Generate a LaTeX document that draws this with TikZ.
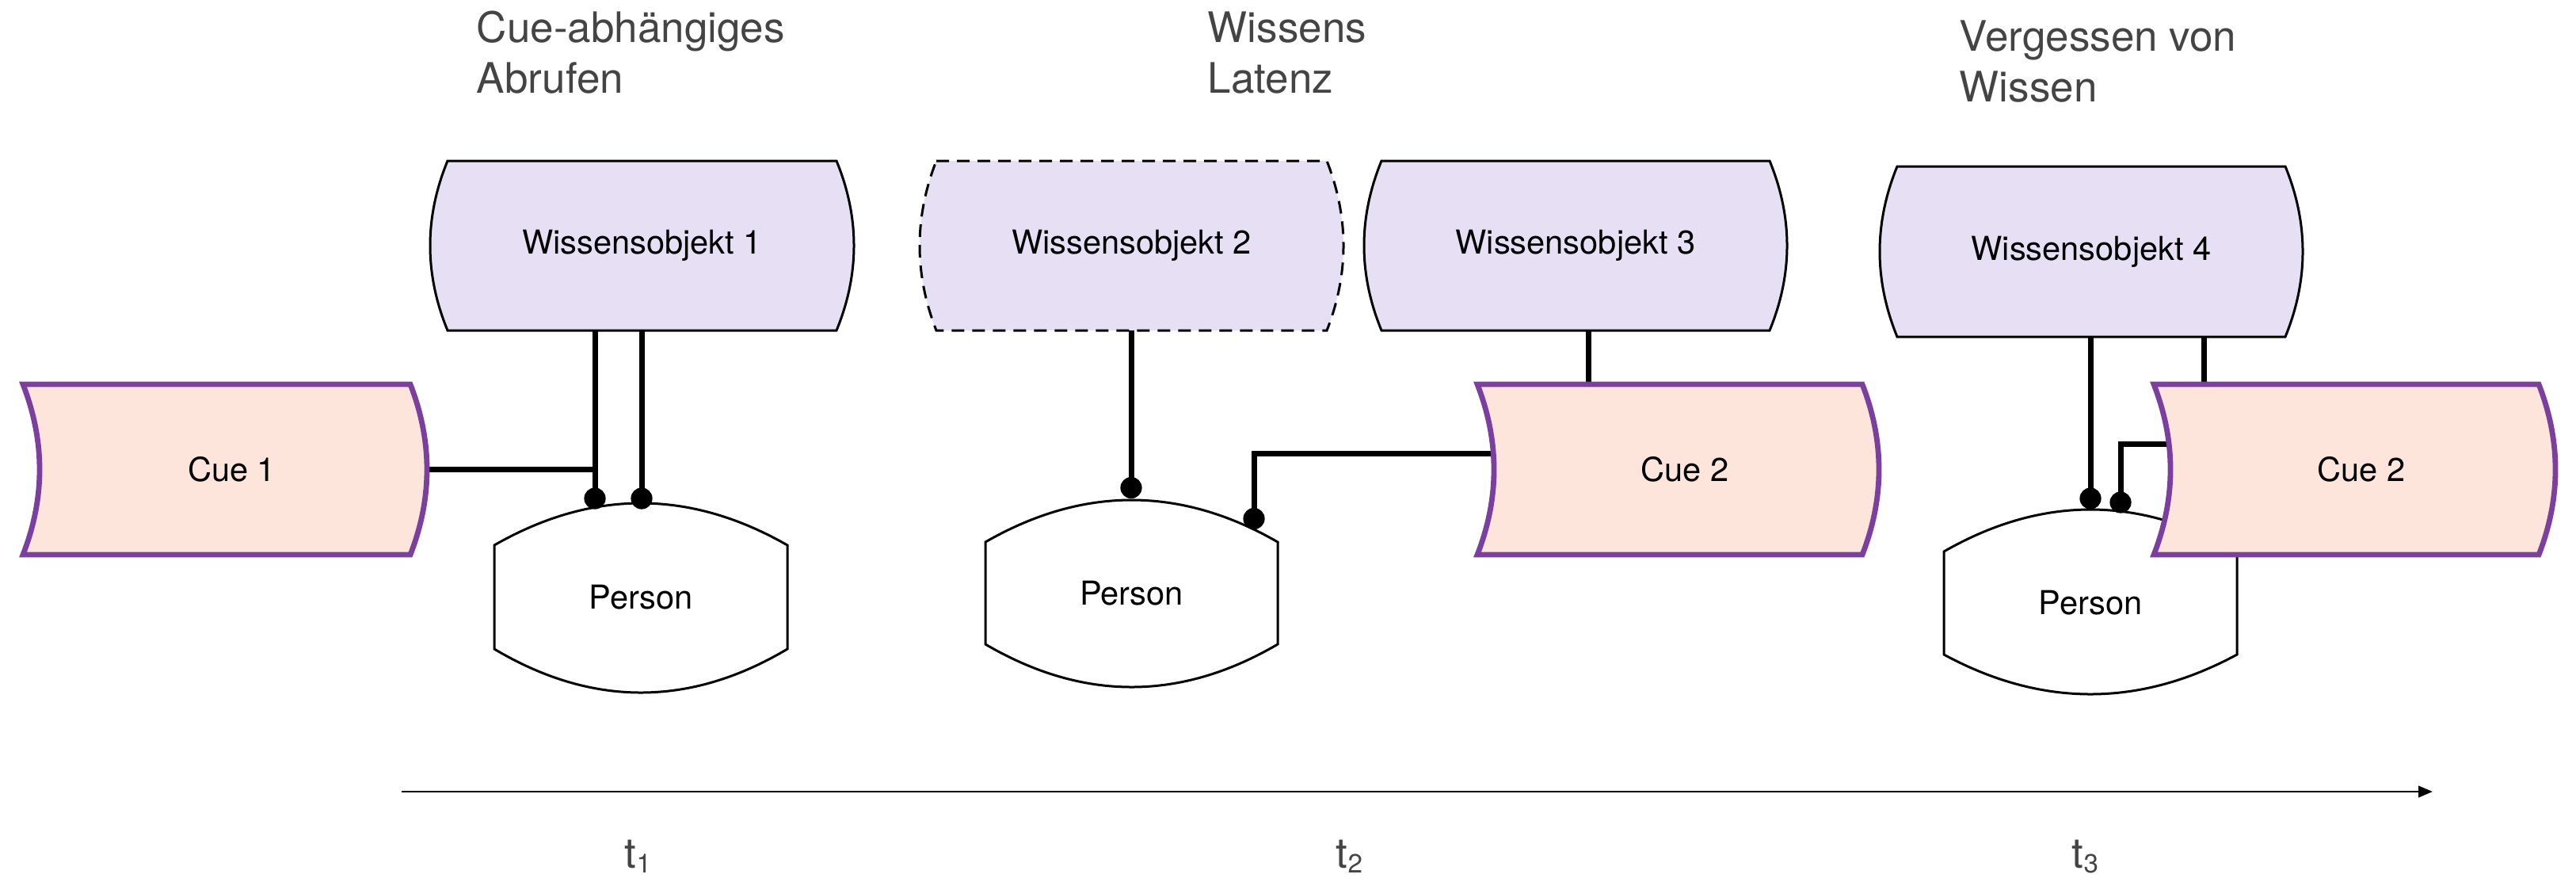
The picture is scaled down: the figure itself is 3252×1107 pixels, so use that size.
\documentclass[tikz,border=0pt]{standalone}
\usepackage{fontspec}
\setmainfont{TeX Gyre Heros}
\usetikzlibrary{calc,arrows.meta}
\definecolor{wofill}{HTML}{E7E0F4}
\definecolor{cuefill}{HTML}{FDE5DB}
\definecolor{cueline}{HTML}{7B3F9E}
\definecolor{titlegray}{HTML}{444444}
% box with both vertical sides bulging outward
\newcommand\woshape[3]{%
  \draw[#3] (#1.north west) -- (#1.north east)
    .. controls ($(#1.north east)!1/3!(#1.south east)+(4/3*#2,0)$) and ($(#1.north east)!2/3!(#1.south east)+(4/3*#2,0)$) .. (#1.south east)
    -- (#1.south west)
    .. controls ($(#1.south west)!1/3!(#1.north west)-(4/3*#2,0)$) and ($(#1.south west)!2/3!(#1.north west)-(4/3*#2,0)$) .. (#1.north west) -- cycle;}
% box with both vertical sides bent to the right
\newcommand\cueshape[2]{%
  \draw[cuebox] (#1.north west) -- (#1.north east)
    .. controls ($(#1.north east)!1/3!(#1.south east)+(4/3*#2,0)$) and ($(#1.north east)!2/3!(#1.south east)+(4/3*#2,0)$) .. (#1.south east)
    -- (#1.south west)
    .. controls ($(#1.south west)!1/3!(#1.north west)+(4/3*#2,0)$) and ($(#1.south west)!2/3!(#1.north west)+(4/3*#2,0)$) .. (#1.north west) -- cycle;}
% box with flat sides, top and bottom bulging outward
\newcommand\personshape[3]{%
  \draw[personbox] (#1.north west)
    .. controls ($(#1.north west)!1/3!(#1.north east)-(0,4/3*#2)$) and ($(#1.north west)!2/3!(#1.north east)-(0,4/3*#2)$) .. (#1.north east)
    -- (#1.south east)
    .. controls ($(#1.south east)!1/3!(#1.south west)+(0,4/3*#3)$) and ($(#1.south east)!2/3!(#1.south west)+(0,4/3*#3)$) .. (#1.south west)
    -- cycle;}
\newcommand\tsub[1]{t\raisebox{-1.5pt}{\fontsize{8.3pt}{9pt}\selectfont #1}}
\begin{document}
\begin{tikzpicture}[x=0.25pt,y=-0.25pt,
  geo/.style={draw=none,inner sep=0pt,outer sep=0pt},
  wobox/.style={draw=black,fill=wofill,line width=0.75pt},
  wodash/.style={wobox,dash pattern=on 4pt off 2.5pt},
  cuebox/.style={draw=cueline,fill=cuefill,line width=1.7pt,line join=miter},
  personbox/.style={draw=black,fill=white,line width=0.75pt},
  conn/.style={draw=black,line width=1.75pt},
  dot/.style={circle,fill=black,inner sep=0pt,minimum size=6.8pt},
  lbl/.style={font=\fontsize{10.4pt}{12pt}\selectfont,text=black},
  title/.style={anchor=base west,inner sep=0pt,align=left,text=titlegray,font=\fontsize{13.25pt}{16pt}\selectfont},
  tlabel/.style={anchor=base west,inner sep=0pt,text=titlegray,font=\fontsize{13.25pt}{16pt}\selectfont},
  axis/.style={draw=black,line width=0.7pt,-{Triangle[length=4.5pt,width=3.6pt]}}
]
\useasboundingbox (0,0) rectangle (3252,1107);

% geometry of the shapes
\node[geo,minimum width=122.75pt,minimum height=53.5pt] (w1) at (810.5,310) {};
\node[geo,minimum width=123.25pt,minimum height=53.5pt] (w2) at (1428.5,310) {};
\node[geo,minimum width=122.5pt,minimum height=53.5pt] (w3) at (1989,310) {};
\node[geo,minimum width=122.5pt,minimum height=53.75pt] (w4) at (2640,317.5) {};
\node[geo,minimum width=122.25pt,minimum height=53.75pt] (c1) at (273.5,592.5) {};
\node[geo,minimum width=121.5pt,minimum height=53.75pt] (c2) at (2108,592.5) {};
\node[geo,minimum width=121.5pt,minimum height=53.75pt] (c3) at (2962,592.5) {};
\node[geo,minimum width=92.5pt,minimum height=32.75pt] (p1) at (809,753.5) {};
\node[geo,minimum width=92.25pt,minimum height=32.25pt] (p2) at (1428.5,748.5) {};
\node[geo,minimum width=92.5pt,minimum height=32.5pt] (p3) at (2639,761) {};

% knowledge objects
\woshape{w1}{22}{wobox}
\woshape{w2}{21}{wodash}
\woshape{w3}{22}{wobox}
\woshape{w4}{22}{wobox}

% persons
\personshape{p1}{53}{55}
\personshape{p2}{53}{54}
\personshape{p3}{53}{50}

% connector dots
\node[dot] (d1a) at (751,629) {};
\node[dot] (d1b) at (810,629) {};
\node[dot] (d2a) at (1428,615.5) {};
\node[dot] (d2b) at (1583,654.5) {};
\node[dot] (d3a) at (2639,629) {};
\node[dot] (d3b) at (2677,634) {};

% connectors
\draw[conn] (w1.south -| d1a) -- (d1a.center);
\draw[conn] (w1.south -| d1b) -- (d1b.center);
\draw[conn] (c1.center) -| (d1a.center);
\draw[conn] (w2.south -| d2a) -- (d2a.center);
\draw[conn] ([yshift=5.1pt]c2.center) -| (d2b.center);
\draw[conn] (w3.south -| 2005,0) -- (c2.north -| 2005,0);
\draw[conn] (w4.south -| d3a) -- (d3a.center);
\draw[conn] (w4.south -| 2782,0) -- (c3.north -| 2782,0);
\draw[conn] ([yshift=8.1pt]c3.center) -| (d3b.center);

% cues
\cueshape{c1}{21}
\cueshape{c2}{21}
\cueshape{c3}{21}

% labels
\node[lbl] (w1t) at (w1) {Wissensobjekt 1};
\node[lbl] (w2t) at (w2) {Wissensobjekt 2};
\node[lbl] (w3t) at (w3) {Wissensobjekt 3};
\node[lbl] (w4t) at (w4) {Wissensobjekt 4};
\node[lbl,xshift=4.75pt] (c1t) at (c1) {Cue 1};
\node[lbl,xshift=4.75pt] (c2t) at (c2) {Cue 2};
\node[lbl,xshift=4.75pt] (c3t) at (c3) {Cue 2};
\node[lbl] (p1t) at (p1) {Person};
\node[lbl] (p2t) at (p2) {Person};
\node[lbl] (p3t) at (p3) {Person};

% titles (base anchor = baseline of the last line)
\node[title] (ttl1) at (601,117) {Cue-abhängiges\\Abrufen};
\node[title] (ttl2) at (1524,117) {Wissens\\Latenz};
\node[title] (ttl3) at (2473,128) {Vergessen von\\Wissen};

% time axis
\coordinate (axstart) at (507,999);
\coordinate (axend) at (3071,999);
\draw[axis] (axstart) -- (axend);
\node[tlabel] (t1) at (788,1095) {\tsub{1}};
\node[tlabel] (t2) at (1686,1095) {\tsub{2}};
\node[tlabel] (t3) at (2615,1095) {\tsub{3}};
\end{tikzpicture}
\end{document}
